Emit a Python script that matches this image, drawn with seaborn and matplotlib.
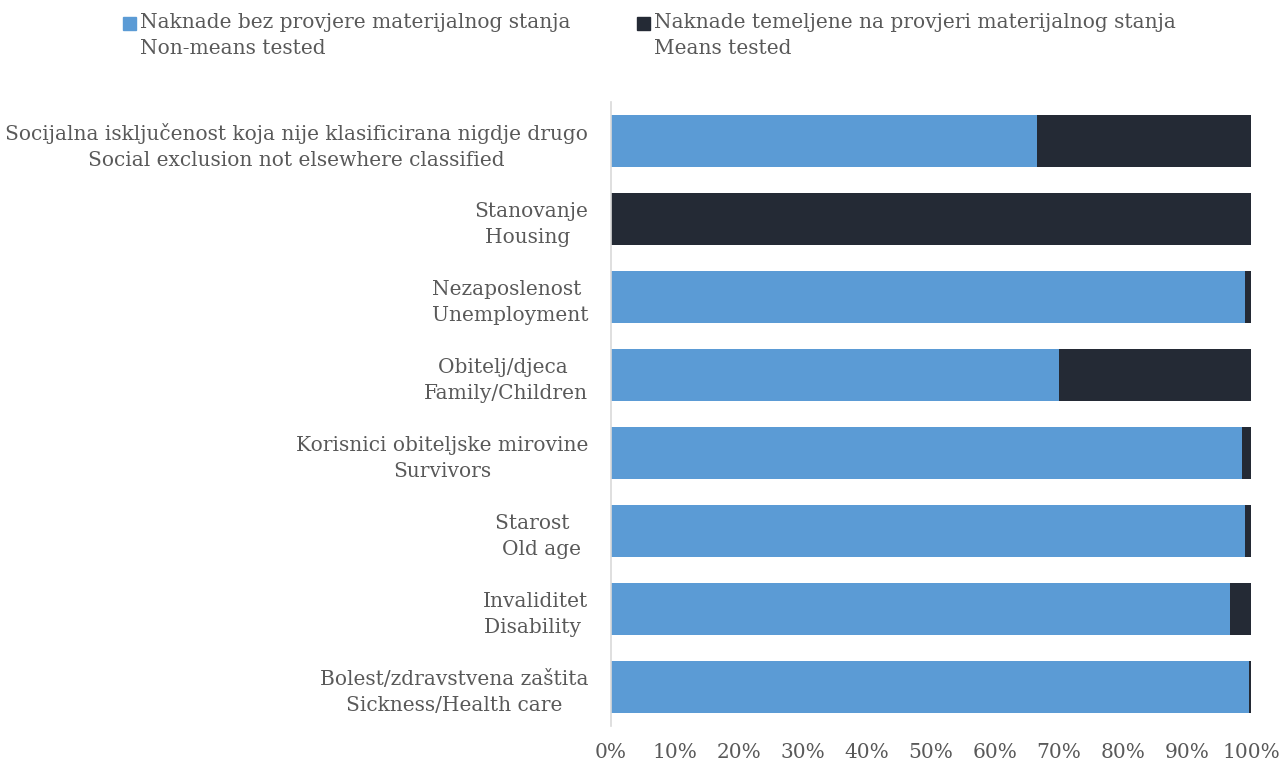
import matplotlib as mpl
import matplotlib.pyplot as plt
import numpy as np
import seaborn as sns
import pandas as pd
from matplotlib.patches import Rectangle
from matplotlib.ticker import PercentFormatter

# data (shares in %)
categories = [
  "Socijalna isključenost koja nije klasificirana nigdje drugo\nSocial exclusion not elsewhere classified",
  "Stanovanje\nHousing ",
  "Nezaposlenost \nUnemployment",
  "Obitelj/djeca \nFamily/Children",
  "Korisnici obiteljske mirovine\nSurvivors",
  "Starost   \nOld age",
  "Invaliditet\nDisability ",
  "Bolest/zdravstvena zaštita\nSickness/Health care",
]
non_means_tested = [66.5, 0.0, 99.0, 70.0, 98.6, 99.1, 96.7, 99.6]
means_tested = [33.5, 100.0, 1.0, 30.0, 1.4, 0.9, 3.3, 0.4]
legend_labels = [
  "Naknade bez provjere materijalnog stanja\nNon-means tested",
  "Naknade temeljene na provjeri materijalnog stanja\nMeans tested",
]
xticks = [0, 10, 20, 30, 40, 50, 60, 70, 80, 90, 100]

blue = "#5B9BD5"
dark = "#242A35"
grey_text = "#595959"
fsize = 14.5

sns.set_theme(style="white")
plt.rcParams["font.family"] = ["DejaVu Serif"]

df = pd.DataFrame({
  "category": categories,
  "non_means": non_means_tested,
  "means": means_tested,
})
df["total"] = df["non_means"] + df["means"]

fig = plt.figure(figsize=(12.84, 7.69), dpi=100)
ax = fig.add_axes([0.4759, 0.0559, 0.4985, 0.8115])

# stacked: full length in dark, blue part drawn over it
sns.barplot(data=df, x="total", y="category", color=dark, width=0.667,
            saturation=1, linewidth=0, ax=ax, orient="h")
sns.barplot(data=df, x="non_means", y="category", color=blue, width=0.667,
            saturation=1, linewidth=0, ax=ax, orient="h")

ax.set_xlim(0, 100)
ax.set_ylim(len(categories) - 0.5, -0.5)
ax.set_xticks(xticks)
ax.xaxis.set_major_formatter(PercentFormatter(decimals=0))
ax.set_xlabel("")
ax.set_ylabel("")
for s in ["top", "right", "bottom"]:
  ax.spines[s].set_visible(False)
ax.spines["left"].set_color("#D9D9D9")
ax.spines["left"].set_linewidth(1.2)
ax.tick_params(axis="both", length=0, labelsize=fsize, labelcolor=grey_text)
ax.tick_params(axis="y", pad=16.5)
ax.tick_params(axis="x", pad=12)
for lab in ax.get_yticklabels():
  lab.set_multialignment("center")
  lab.set_linespacing(1.45)

# legend, drawn by hand so the square sits on the first line
leg_x = [123, 637]
for i, (lab, col) in enumerate(zip(legend_labels, [blue, dark])):
  x0 = leg_x[i] / 1284
  fig.patches.append(Rectangle((x0, 1 - 30 / 769), 13 / 1284, 13 / 769,
                               transform=fig.transFigure, color=col))
  fig.text(x0 + 17 / 1284, 1 - 13 / 769, lab, ha="left", va="top",
           fontsize=fsize, color=grey_text, linespacing=1.45)

fig.savefig("out.png", dpi=100)
